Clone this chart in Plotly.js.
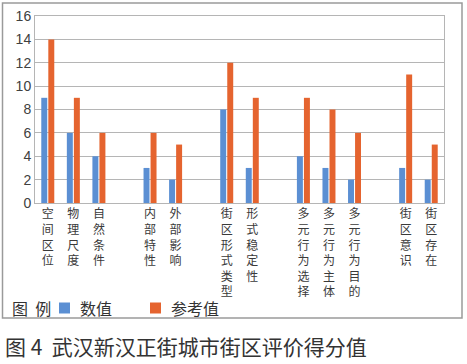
<!DOCTYPE html>
<html><head><meta charset="utf-8">
<script src="https://cdn.plot.ly/plotly-3.0.1.min.js"></script>
<style>body{margin:0;background:#fff}#c{width:467px;height:364px}</style>
</head><body><div id="c"></div><script>
// ---- data ----
const categories = ['空间区位','物理尺度','自然条件','内部特性','外部影响','街区形式类型','形式稳定性','多元行为选择','多元行为主体','多元行为目的','街区意识','街区存在'];
const groupSizes = [3, 2, 2, 3, 2];
const values = [9, 6, 4, 3, 2, 8, 3, 4, 3, 2, 3, 2];
const reference = [14, 9, 6, 6, 5, 12, 9, 9, 8, 6, 11, 5];
const yTicks = [0, 2, 4, 6, 8, 10, 12, 14, 16];
const seriesNames = ['数值', '参考值'];
const seriesColors = ['#5b8fd3', '#e5642f'];
const legendTitle = '图&nbsp;&nbsp;例';
const caption = '图 4&nbsp;&nbsp;武汉新汉正街城市街区评价得分值';

// ---- layout helpers ----
const W = 467, H = 364;
const M = {l: 35, r: 23, t: 16, b: 161, autoexpand: false};
const pw = W - M.l - M.r, ph = H - M.t - M.b;
const px = x => (x - M.l) / pw;
const py = y => (H - M.b - y) / ph;

// slot positions: one empty slot between groups
const pos = [];
let slot = 0;
groupSizes.forEach(n => {
  for (let i = 0; i < n; i++) pos.push(slot++);
  slot++;
});
const nSlots = slot - 1;
const vertical = categories.map(c => c.split('').join('<br>'));

const cjk = '"Noto Sans CJK SC", "Noto Sans", sans-serif';
const tickFamily = '"Liberation Sans", "Noto Sans CJK SC", sans-serif';
const traces = [
  {type: 'bar', name: seriesNames[0], x: pos, y: values, marker: {color: seriesColors[0]}},
  {type: 'bar', name: seriesNames[1], x: pos, y: reference, marker: {color: seriesColors[1]}}
];

// manual legend (title + swatches + labels)
const legendY = 308;
const swatchX = [59, 150];
const shapes = [{
  type: 'rect', xref: 'paper', yref: 'paper', layer: 'below',
  x0: px(2.5), x1: px(462), y0: py(318), y1: py(3),
  line: {color: '#9a9a9a', width: 1.5}
}];
const annotations = [{
  xref: 'paper', yref: 'paper', x: px(10), y: py(legendY), xanchor: 'left', yanchor: 'middle',
  text: legendTitle, showarrow: false, font: {family: cjk, size: 16, color: '#333'}
}, {
  xref: 'paper', yref: 'paper', x: px(3), y: py(346), xanchor: 'left', yanchor: 'middle',
  text: caption, showarrow: false, font: {family: cjk, size: 21, color: '#333'}
}];
seriesNames.forEach((name, i) => {
  shapes.push({
    type: 'rect', xref: 'paper', yref: 'paper',
    x0: px(swatchX[i]), x1: px(swatchX[i] + 11), y0: py(legendY + 5.5), y1: py(legendY - 5.5),
    fillcolor: seriesColors[i], line: {width: 0}
  });
  annotations.push({
    xref: 'paper', yref: 'paper', x: px(swatchX[i] + 19), y: py(legendY), xanchor: 'left', yanchor: 'middle',
    text: name, showarrow: false, font: {family: cjk, size: 16, color: '#333'}
  });
});

const layout = {
  width: W, height: H,
  margin: M,
  paper_bgcolor: '#fff', plot_bgcolor: '#fff',
  barmode: 'group', bargap: 0.45, bargroupgap: 0.15,
  showlegend: false,
  xaxis: {
    range: [-0.5, nSlots - 0.5], tickmode: 'array', tickvals: pos, ticktext: vertical,
    showgrid: false, zeroline: false, showline: true, mirror: true, linecolor: '#b5b5b5', linewidth: 1,
    ticks: '', tickfont: {family: tickFamily, size: 12, color: '#3a3a3a'}, tickangle: 0, fixedrange: true
  },
  yaxis: {
    range: [0, 16], tickmode: 'array', tickvals: yTicks,
    showgrid: true, gridcolor: '#b5b5b5', zeroline: false, showline: true, mirror: true, linecolor: '#b5b5b5',
    ticks: '', tickfont: {family: '"Liberation Sans", Arial, sans-serif', size: 14, color: '#404040'}, fixedrange: true
  },
  shapes: shapes,
  annotations: annotations
};
Plotly.newPlot('c', traces, layout, {displayModeBar: false, staticPlot: true});
</script></body></html>
